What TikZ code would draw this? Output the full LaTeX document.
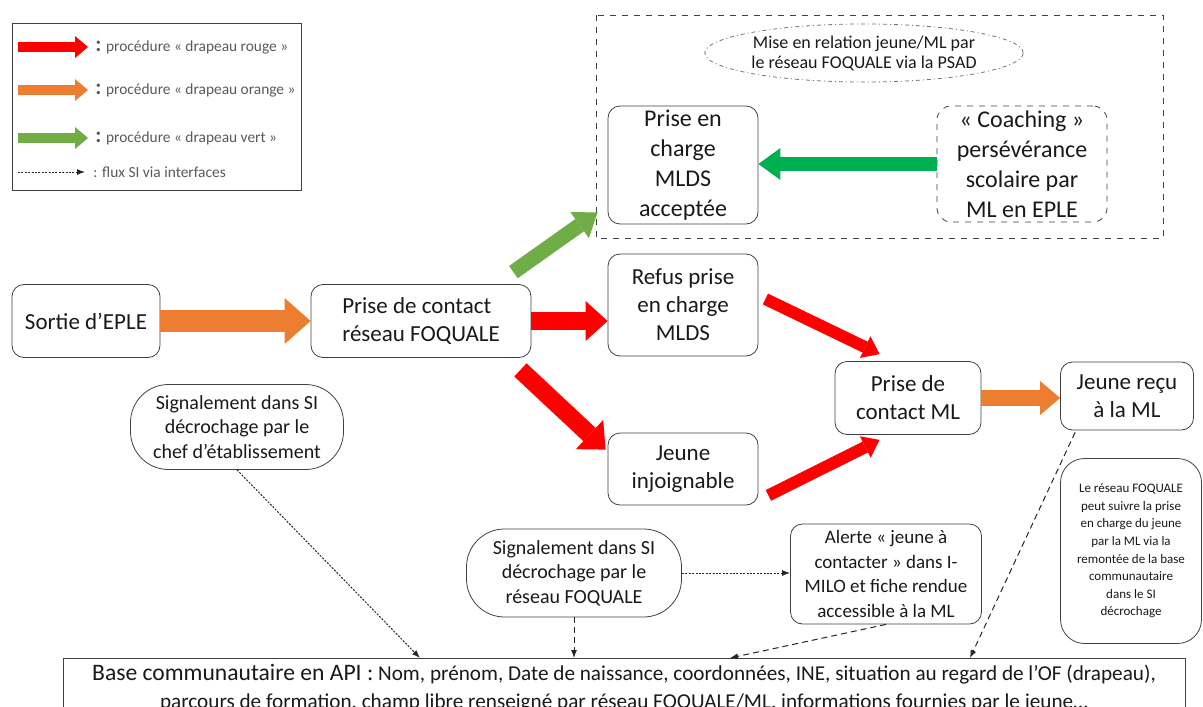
\documentclass[tikz,border=0pt]{standalone}
\usepackage{fontspec}
\setmainfont{Carlito}
\usepackage{xcolor}
\usetikzlibrary{arrows.meta, shapes.geometric}

\definecolor{flagred}{HTML}{FF0000}
\definecolor{flagorange}{HTML}{ED7D31}
\definecolor{flaggreen}{HTML}{70AD47}
\definecolor{coachgreen}{HTML}{00B050}
\definecolor{legendgray}{HTML}{595959}
\definecolor{boxline}{HTML}{404040}

\begin{document}
\begin{tikzpicture}[x=0.5pt, y=-0.5pt,
	box/.style={draw=boxline, rounded corners=6pt, align=center, inner sep=1pt, text=black!90, font=\fontsize{11.5}{14}\selectfont},
	bigbox/.style={box, font=\fontsize{12}{15}\selectfont},
	pill/.style={box, rounded corners=19pt, font=\fontsize{10}{12.3}\selectfont},
	legendtext/.style={anchor=west, inner sep=0pt, text=legendgray, font=\fontsize{7.7}{9}\selectfont},
	redfat/.style={draw=flagred, line width=9pt, -{Triangle[width=20pt, length=11pt, line width=0pt]}},
	redthin/.style={draw=flagred, line width=6pt, -{Triangle[width=12pt, length=8pt, line width=0pt]}},
	orangefat/.style={draw=flagorange, line width=11pt, -{Triangle[width=23pt, length=13pt, line width=0pt]}},
	orangethin/.style={draw=flagorange, line width=8pt, -{Triangle[width=17pt, length=10pt, line width=0pt]}},
	greenfat/.style={draw=flaggreen, line width=7.5pt, -{Triangle[width=16pt, length=11pt, line width=0pt]}},
	coachfat/.style={draw=coachgreen, line width=7pt, -{Triangle[width=16pt, length=11pt, line width=0pt]}},
	legendarrow/.style={line width=5pt, -{Triangle[width=11pt, length=6.5pt, line width=0pt]}},
	flux/.style={draw=black!85, line width=0.5pt, dash pattern=on 3pt off 2pt, -{Latex[length=4pt, width=3pt]}},
	fluxdot/.style={flux, dash pattern=on 1pt off 0.7pt}]

	\useasboundingbox (0,0) rectangle (1203,706);
	\clip (0,0) rectangle (1203,706);

	\draw[boxline] (12,23) rectangle (301,190);
	\foreach \y/\col/\flag in {47/flagred/rouge, 90/flagorange/orange, 138/flaggreen/vert}{
		\coordinate (leg\flag a) at (18,\y);
		\coordinate (leg\flag b) at (88,\y);
		\draw[legendarrow, draw=\col] (leg\flag a) -- (leg\flag b);
		\node[legendtext] (legtxt\flag) at (95,\y) {{\fontsize{11}{11}\selectfont\bfseries :} procédure « drapeau \flag{} »};
	}
	\coordinate (legfluxa) at (18,172);
	\coordinate (legfluxb) at (85,172);
	\draw[fluxdot] (legfluxa) -- (legfluxb);
	\node[legendtext] (legtxtflux) at (93,172) {: flux SI via interfaces};

	\draw[boxline, dashed] (596,15) rectangle (1163,238);
	\node[ellipse, draw=black!55, dash pattern=on 2pt off 1.5pt on 0.5pt off 1.5pt, minimum width=140pt, minimum height=29pt, inner sep=0pt, align=center, text=black!90, font=\fontsize{9}{10}\selectfont] (psad) at (864,53) {Mise en relation jeune/ML par\\le réseau FOQUALE via la PSAD};
	\node[bigbox, minimum width=75pt, minimum height=59pt] (accept) at (683,165) {Prise en\\charge\\MLDS\\acceptée};
	\node[bigbox, dashed, rounded corners=7pt, minimum width=85pt, minimum height=58pt] (coach) at (1022,164) {« Coaching »\\persévérance\\scolaire par\\ML en EPLE};

	\node[box, minimum width=74pt, minimum height=36.5pt] (sortie) at (86,321) {Sortie d’EPLE};
	\node[box, align=left, minimum width=110pt, minimum height=36.5pt] (contact) at (421,321) {Prise de contact\\réseau FOQUALE};
	\node[box, minimum width=75pt, minimum height=51pt] (refus) at (683,305) {Refus prise\\en charge\\MLDS};
	\node[box, minimum width=75pt, minimum height=36pt] (injoign) at (683,469) {Jeune\\injoignable};
	\node[box, minimum width=73pt, minimum height=36.5pt] (contactml) at (908,398) {Prise de\\contact ML};
	\node[box, minimum width=66.5pt, minimum height=34pt] (recu) at (1127,396) {Jeune reçu\\à la ML};
	\node[box, rounded corners=12pt, minimum width=70.5pt, minimum height=92.5pt, font=\fontsize{6.5}{8.8}\selectfont] (suivi) at (1131,551) {Le réseau FOQUALE\\peut suivre la prise\\en charge du jeune\\par la ML via la\\remontée de la base\\communautaire\\dans le SI\\décrochage};

	\node[pill, minimum width=106.5pt, minimum height=42.5pt] (chef) at (237,427) {Signalement dans SI\\décrochage par le\\chef d’établissement};
	\node[pill, minimum width=107.5pt, minimum height=44pt] (sigres) at (574,573) {Signalement dans SI\\décrochage par le\\réseau FOQUALE};
	\node[box, minimum width=95.5pt, minimum height=50pt, font=\fontsize{9.5}{12.3}\selectfont] (alerte) at (886,574) {Alerte « jeune à\\contacter » dans I-\\MILO et fiche rendue\\accessible à la ML};
	\node[draw=boxline, anchor=north, minimum width=561pt, align=center, inner ysep=2.8pt, text=black!90, font=\fontsize{10.6}{14}\selectfont] (base) at (624,658) {{\fontsize{11.8}{14}\selectfont Base communautaire en API :} Nom, prénom, Date de naissance, coordonnées, INE, situation au regard de l’OF (drapeau),\\parcours de formation, champ libre renseigné par réseau FOQUALE/ML, informations fournies par le jeune\dots};

	\draw[orangefat] (sortie) -- (contact);
	\draw[redfat] (contact.east) -- (contact.east -| refus.west);
	\draw[greenfat] ([shift={(-18,-12)}]contact.north east) -- ([shift={(-10,-12)}]accept.south west);
	\draw[redfat] ([shift={(-11,12)}]contact.south east) -- ([shift={(-2,17)}]injoign.north west);
	\draw[coachfat] (coach.west) -- (coach.west -| accept.east);
	\draw[redthin] ([shift={(7,-6)}]refus.east) -- ([shift={(45,-7)}]contactml.north west);
	\draw[redthin] ([shift={(10,-10)}]injoign.south east) -- ([shift={(45,5)}]contactml.south west);
	\draw[orangethin] (contactml.east) -- (contactml.east -| recu.west);

	\coordinate (chefin) at (420,658);
	\coordinate (alertein) at (730,658);
	\coordinate (recuin) at (970,658);
	\draw[fluxdot] (chef.south) -- (chefin);
	\draw[fluxdot] (sigres.east) -- (sigres.east -| alerte.west);
	\draw[flux] (sigres.south) -- (sigres.south |- base.north);
	\draw[flux] (alerte.south) -- (alertein);
	\draw[flux] ([shift={(15,2)}]recu.south west) -- (recuin);
\end{tikzpicture}
\end{document}
